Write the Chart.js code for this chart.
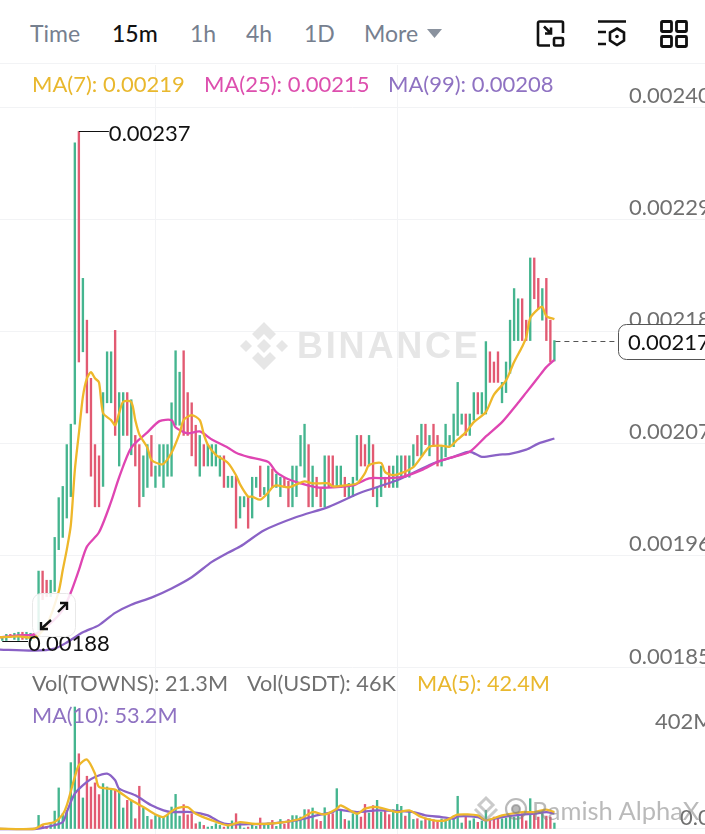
<!DOCTYPE html>
<html lang="en">
<head>
<meta charset="UTF-8" />
<title>TOWNS/USDT 15m</title>
<script src="https://cdn.jsdelivr.net/npm/chart.js@4/dist/chart.umd.min.js"></script>
<style>
  html, body { margin: 0; padding: 0; background: #fff; }
  body { position: relative; width: 705px; height: 834px; overflow: hidden; font-family: Lato, sans-serif; }
  .t { position: absolute; white-space: nowrap; line-height: 1; }
  .tab { top: 22px; font-size: 23px; color: #76808f; }
  .leg { font-size: 22px; }
  .vol { font-size: 21.7px; }
  canvas { position: absolute; left: 0; display: block; }
  #priceChart { top: 65px; }
  #volChart { top: 670px; }
  .rule { position: absolute; left: 0; width: 705px; height: 1px; background: #f2f3f5; top: 63px; }
  svg { position: absolute; overflow: visible; }
  .mark { position: absolute; left: 297px; top: 325px; font: bold 36px "Liberation Sans", sans-serif; letter-spacing: 2.800px; color: #e6e6e6; }
  .wm { position: absolute; left: 532px; top: 795px; font-size: 25.5px; color: rgba(130,130,130,.55); white-space: nowrap; }
</style>
</head>
<body>
<span class="t tab" style="left:30px">Time</span>
<span class="t tab" style="left:112px;color:#111;font-weight:500">15m</span>
<span class="t tab" style="left:190px">1h</span>
<span class="t tab" style="left:246px">4h</span>
<span class="t tab" style="left:304px">1D</span>
<span class="t tab" style="left:364px">More</span>
<svg style="left:427px;top:29px" width="15" height="9"><path d="M0 0H15L7.500 9Z" fill="#8a929e"/></svg>

<svg style="left:537px;top:20px" width="28" height="28" fill="none" stroke="#111" stroke-width="2.600">
  <path d="M13 25.500H2.500a1.500 1.500 0 0 1-1.500-1.500V3a1.500 1.500 0 0 1 1.500-1.500H24.500A1.500 1.500 0 0 1 26 3V13"/>
  <rect x="17" y="18" width="9" height="7.500" rx="1"/>
  <path d="M7 6.500L14 13.500M14 7.500V13.500H8"/>
</svg>
<svg style="left:597px;top:20px" width="30" height="28" fill="none" stroke="#111" stroke-width="2.600">
  <path d="M1 1.500H29M1 12H9M1 24H9"/>
  <path d="M20 8.500L27 12.500V20.500L20 25L13 20.500V12.500Z"/>
  <circle cx="20" cy="16.500" r="1.800" fill="#111" stroke="none"/>
</svg>
<svg style="left:660px;top:20px" width="28" height="28" fill="none" stroke="#111" stroke-width="2.800">
  <rect x="1.500" y="1.500" width="10" height="10" rx="1"/><rect x="16.500" y="1.500" width="10" height="10" rx="1"/>
  <rect x="1.500" y="16.500" width="10" height="10" rx="1"/><rect x="16.500" y="16.500" width="10" height="10" rx="1"/>
</svg>
<div class="rule"></div>

<canvas id="priceChart" width="705" height="605"></canvas>
<canvas id="volChart" width="705" height="164"></canvas>

<span class="t leg" style="left:32px;top:73px;color:#e9b82e">MA(7): 0.00219</span>
<span class="t leg" style="left:204px;top:73px;color:#dd4fae">MA(25): 0.00215</span>
<span class="t leg" style="left:388px;top:73px;color:#8f72c2">MA(99): 0.00208</span>
<span class="t vol" style="left:32px;top:673px;color:#707070">Vol(TOWNS): 21.3M</span>
<span class="t vol" style="left:247px;top:673px;color:#707070">Vol(USDT): 46K</span>
<span class="t vol" style="left:417px;top:673px;color:#e9b82e">MA(5): 42.4M</span>
<span class="t vol" style="left:32px;top:705px;color:#8f72c2">MA(10): 53.2M</span>

<!-- exchange watermark -->
<svg style="left:240px;top:322px" width="48" height="48" fill="#e6e6e6">
  <path d="M24 0L36 12L30 18L24 12L18 18L12 12Z"/><path d="M24 48L36 36L30 30L24 36L18 30L12 36Z"/>
  <path d="M0 24L6 18L12 24L6 30Z"/><path d="M48 24L42 18L36 24L42 30Z"/><path d="M24 17L31 24L24 31L17 24Z"/>
</svg>
<div class="mark">BINANCE</div>

<!-- expand button over the chart -->
<svg style="left:32px;top:593px" width="44" height="44" fill="none">
  <rect x=".5" y=".5" width="43" height="43" rx="9" fill="rgba(255,255,255,.86)" stroke="#e8e8e8"/>
  <g stroke="#111" stroke-width="2.400">
    <path d="M9 36L19 27M26 19L35 10"/>
    <path d="M9 29V36H16M28 10H35V17"/>
  </g>
</svg>

<!-- post watermark -->
<svg style="left:472px;top:796px" width="28" height="26" fill="none" stroke="rgba(150,150,150,.5)" stroke-width="3">
  <path d="M14 2L21 9L14 16L7 9Z"/><path d="M3 13L14 24L25 13"/>
</svg>
<svg style="left:504px;top:797px" width="24" height="24" fill="none" stroke="rgba(130,130,130,.55)" stroke-width="2.200">
  <circle cx="12" cy="12" r="10"/><circle cx="12" cy="12" r="4" fill="rgba(130,130,130,.55)"/>
</svg>
<div class="wm">Ramish AlphaX</div>

<script>
// prices are in millionths of USDT (2171 = 0.002171), volumes in millions
const candleOpen = [
  1877,1877,1883,1878,1877,1885,1878,1877,1884,1887,1945,1936,1920,1925,1966,1978,1997,2018,2089,2376,
  2160,2191,2134,2069,2058,2028,2110,2110,2181,2048,2078,2120,2059,2078,2069,2018,2027,2078,2027,2038,
  2027,2038,2038,2088,2088,2161,2120,2110,2088,2038,2069,2048,2048,2048,2038,2058,2027,2027,2038,1997,
  2008,2018,1997,2027,2048,2020,2008,2045,2027,2018,2037,2033,2008,2018,2048,2037,2069,2008,2037,2027,
  2008,2058,2058,2027,2027,2037,2018,2018,2034,2078,2069,2048,2069,2008,2018,2037,2048,2027,2027,2037,
  2058,2037,2048,2078,2058,2089,2058,2089,2078,2048,2057,2067,2067,2078,2089,2099,2078,2093,2120,2099,
  2099,2160,2150,2160,2110,2120,2139,2171,2171,2212,2191,2171,2252,2232,2191,2232,2191,2151
];
const candleClose = [
  1881,1883,1880,1884,1885,1878,1885,1884,1880,1945,1917,1920,1936,1978,2017,2028,2069,2089,2365,2150,
  2232,2100,2038,2008,2008,2120,2160,2160,2078,2120,2120,2078,2113,2048,2008,2058,2069,2038,2048,2069,
  2069,2069,2110,2161,2140,2078,2078,2058,2048,2078,2048,2069,2069,2069,2058,2027,2038,2038,1987,2018,
  2018,1987,2037,2037,2018,2027,2048,2027,2040,2037,2027,2008,2048,2048,2078,2089,2008,2048,2018,2008,
  2058,2027,2027,2048,2048,2018,2031,2037,2078,2048,2048,2078,2018,2027,2048,2027,2027,2048,2058,2058,
  2037,2058,2069,2058,2089,2069,2078,2067,2048,2067,2089,2078,2099,2130,2099,2078,2099,2120,2099,2120,
  2170,2130,2130,2130,2130,2150,2191,2222,2212,2171,2171,2252,2212,2202,2222,2171,2150,2171
];
const volume = [
  1,1,2,1,1,2,1,1,2,57,15,11,19,75,172,64,78,278,511,315,
  130,221,176,193,144,190,176,165,165,169,88,120,120,43,179,88,53,39,56,53,
  50,57,92,145,54,102,59,64,22,29,15,8,11,22,15,8,11,34,64,22,
  4,8,20,11,46,15,25,36,11,40,20,40,56,56,50,81,81,88,39,32,
  89,64,64,169,78,40,34,64,64,50,103,67,98,120,71,78,60,81,103,95,
  54,78,40,43,34,46,43,39,32,42,40,40,40,137,25,50,34,43,28,34,
  78,34,50,50,43,46,50,50,64,64,34,127,64,50,78,54,50,25
];

// the moving averages start on candles scrolled off the left edge
const ma7At = [-1,4,8,11,14,15,16,17,18,19,20,21,22,23,24,25,27,28,29,30,32,33,34,36,37,39,40,42,44,45,47,49,50,51,53,56,58,59,61,62,64,66,67,68,71,73,75,77,81,82,85,88,90,91,94,95,97,99,102,104,106,109,111,113,115,117,120,122,125,127,129,130,131,133,134,135,137];
const ma7 = [1880,1881,1880,1892,1925,1946,1966,1990,2044,2080,2116,2134,2140,2134,2130,2100,2093,2088,2100,2111,2111,2093,2079,2066,2054,2050,2050,2061,2080,2093,2098,2093,2079,2069,2059,2051,2039,2030,2018,2018,2015,2022,2027,2029,2027,2030,2033,2031,2031,2028,2029,2031,2041,2049,2051,2042,2039,2041,2047,2057,2067,2068,2067,2074,2081,2091,2101,2118,2132,2150,2165,2174,2193,2202,2204,2195,2192];
const ma25At = [-1,4,8,12,15,17,19,21,24,27,29,32,36,39,42,43,46,49,52,56,58,61,66,68,71,74,78,82,87,91,95,99,104,108,112,116,120,124,128,130,133,135,137];
const ma25 = [1880,1882,1883,1894,1907,1924,1946,1969,1983,2013,2037,2066,2081,2092,2093,2086,2080,2082,2074,2066,2061,2057,2052,2042,2035,2031,2027,2027,2029,2036,2036,2037,2044,2052,2057,2062,2077,2091,2110,2120,2135,2145,2152];
const ma99At = [-1,8,13,16,20,24,28,32,37,42,47,52,56,59,65,73,81,89,98,106,108,112,116,119,123,126,130,133,137];
const ma99 = [1868,1867,1869,1875,1885,1892,1904,1912,1919,1928,1939,1954,1963,1969,1985,1998,2008,2022,2034,2049,2052,2057,2062,2057,2059,2060,2064,2070,2075];

const volMa5At = [-1,8,10,13,15,16,18,19,21,23,24,28,32,35,38,40,43,46,48,52,56,59,62,66,70,74,77,80,83,84,88,90,93,98,101,104,107,110,113,118,120,124,129,132,135,137];
const volMa5 = [1,1,18,29,61,99,218,267,291,232,176,165,120,92,61,50,85,92,64,36,15,29,22,22,29,43,71,61,85,99,64,85,92,71,78,50,36,36,60,57,36,57,71,71,81,71];
const volMa10At = [-1,8,11,15,16,18,21,23,26,28,29,33,37,40,42,47,51,54,56,61,66,70,74,78,82,83,88,93,99,102,105,109,112,113,118,120,124,129,132,135,137];
const volMa10 = [0,0,8,29,71,148,197,218,232,204,169,141,99,78,71,71,57,29,20,20,22,29,39,57,71,81,71,78,75,71,57,50,43,53,50,36,50,60,64,71,64];

const priceTicks = [2400,2290,2180,2070,1960,1850];
const priceTickLabels = ['0.00240','0.00229','0.00218','0.00207','0.00196','0.00185'];
const volTicks = [402,0];
const volTickLabels = ['402M','0.0'];
const timeGridAt = [38,98];

const highAt = 19, highPrice = 2376, highLabel = '0.00237';
const lowAt = 0, lowPrice = 1876, lowLabel = '0.00188';
const lastAt = 137, lastPrice = 2171, lastLabel = '0.00217';

const GREEN = '#45b58f', RED = '#e25a72', YELLOW = '#eeb72a', PINK = '#df45b2', PURPLE = '#8a62c6';
const FONT = 'Lato, sans-serif';
const indexes = candleOpen.map((_, i) => i);
const barColors = indexes.map(i => candleClose[i] >= candleOpen[i] ? GREEN : RED);

function pairs(at, values) { return at.map((x, i) => ({ x: x, y: values[i] })); }

function line(label, at, values, color, order) {
  return { type: 'line', label, data: pairs(at, values), borderColor: color, borderWidth: 2.3, pointRadius: 0, tension: 0.25, order };
}

function sharedScales(yMin, yMax, ticks) {
  return {
    x: {
      type: 'linear', offset: false, min: -0.571, max: 174.37,
      afterBuildTicks: s => { s.ticks = timeGridAt.map(v => ({ value: v })); },
      ticks: { display: false },
      grid: { color: '#f2f3f5', drawTicks: false, offset: false },
      border: { display: false }
    },
    y: {
      type: 'linear', position: 'right', min: yMin, max: yMax,
      afterBuildTicks: s => { s.ticks = ticks.map(v => ({ value: v })); },
      ticks: { display: false },
      grid: { color: '#f2f3f5', drawTicks: false },
      border: { display: false }
    }
  };
}

// axis labels sit just above their grid lines, so the axis cannot draw them itself
function tickLabels(values, labels, left) {
  return {
    id: 'tickLabels',
    afterDatasetsDraw(chart) {
      const ctx = chart.ctx;
      ctx.save();
      ctx.font = '22px ' + FONT;
      ctx.fillStyle = '#707070';
      ctx.textBaseline = 'middle';
      values.forEach((v, i) => {
        const l = typeof left === 'number' ? left : left[i];
        ctx.fillText(labels[i], l, chart.scales.y.getPixelForValue(v) - 11.5);
      });
      ctx.restore();
    }
  };
}

const priceMarkers = {
  id: 'priceMarkers',
  afterDraw(chart) {
    const ctx = chart.ctx, x = chart.scales.x, y = chart.scales.y;
    ctx.save();
    ctx.font = '22px ' + FONT;
    ctx.textBaseline = 'middle';
    ctx.fillStyle = '#111';
    ctx.strokeStyle = '#111';
    ctx.lineWidth = 1;

    const hx = x.getPixelForValue(highAt), hy = Math.round(y.getPixelForValue(highPrice)) + 0.5;
    ctx.beginPath(); ctx.moveTo(hx, hy); ctx.lineTo(hx + 30, hy); ctx.stroke();
    ctx.fillText(highLabel, hx + 30, hy + 2);

    const lx = x.getPixelForValue(lowAt), ly = Math.round(y.getPixelForValue(lowPrice)) + 0.5;
    ctx.beginPath(); ctx.moveTo(lx, ly); ctx.lineTo(28, ly); ctx.stroke();
    ctx.fillText(lowLabel, 28, ly + 2);

    const px = x.getPixelForValue(lastAt), py = Math.round(y.getPixelForValue(lastPrice)) + 0.5;
    ctx.strokeStyle = '#555';
    ctx.setLineDash([5, 4]);
    ctx.beginPath(); ctx.moveTo(px + 1, py); ctx.lineTo(618, py); ctx.stroke();
    ctx.setLineDash([]);
    ctx.fillStyle = '#fff';
    ctx.beginPath(); ctx.roundRect(618.5, py - 17, 110, 35, 8); ctx.fill(); ctx.stroke();
    ctx.fillStyle = '#111';
    ctx.fillText(lastLabel, 628, py + 1);
    ctx.restore();
  }
};

new Chart(document.getElementById('priceChart'), {
  data: {
    datasets: [
      line('MA(7)', ma7At, ma7, YELLOW, 0),
      line('MA(25)', ma25At, ma25, PINK, 1),
      line('MA(99)', ma99At, ma99, PURPLE, 2),
      {
        type: 'bar', label: 'Price', order: 3,
        data: indexes.map(i => ({ x: i, y: [candleOpen[i], candleClose[i]] })),
        backgroundColor: barColors, barThickness: 1.7, borderSkipped: false
      }
    ]
  },
  options: {
    responsive: false, animation: false, devicePixelRatio: 1,
    layout: { padding: 0 },
    plugins: { legend: { display: false }, tooltip: { enabled: false } },
    scales: sharedScales(1848, 2441.2, priceTicks)
  },
  plugins: [tickLabels(priceTicks, priceTickLabels, 629), priceMarkers]
});

new Chart(document.getElementById('volChart'), {
  data: {
    datasets: [
      line('MA(5)', volMa5At, volMa5, YELLOW, 0),
      line('MA(10)', volMa10At, volMa10, PURPLE, 1),
      {
        type: 'bar', label: 'Volume', order: 2,
        data: indexes.map(i => ({ x: i, y: volume[i] })),
        backgroundColor: barColors, barThickness: 1.7
      }
    ]
  },
  options: {
    responsive: false, animation: false, devicePixelRatio: 1,
    layout: { padding: 0 },
    plugins: { legend: { display: false }, tooltip: { enabled: false } },
    scales: sharedScales(-21, 666, [0])
  },
  plugins: [tickLabels(volTicks, volTickLabels, [655, 680])]
});
</script>
</body>
</html>
